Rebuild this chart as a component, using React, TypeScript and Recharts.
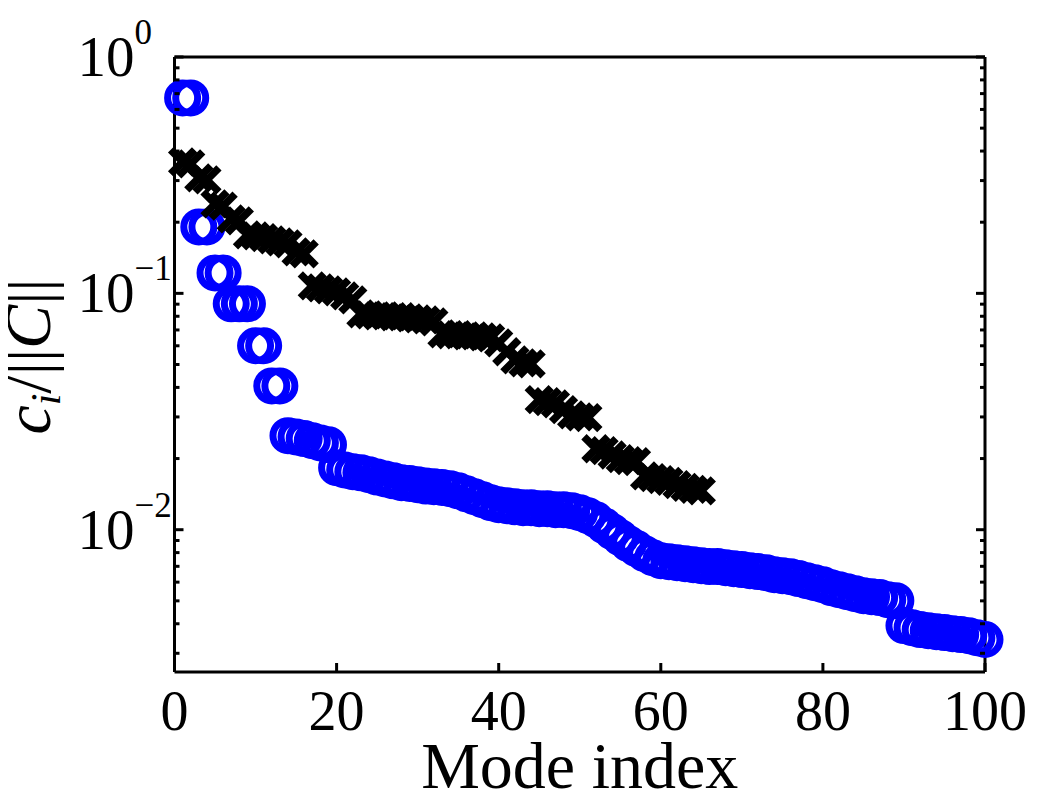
import { Scatter, ScatterChart, XAxis, YAxis } from "recharts";

// normalised coefficient per mode (blue circles, modes 1..100)
const circleCoeffs = [
  0.671, 0.671, 0.191, 0.191, 0.122, 0.122, 0.0903, 0.0903, 0.0903, 0.06, 0.06, 0.0406, 0.0406,
  0.025, 0.0247, 0.0243, 0.0238, 0.0233, 0.0229,
  0.0183, 0.0179, 0.0176, 0.0174, 0.0171, 0.0167, 0.0164, 0.0161, 0.0158, 0.0157,
  0.0155, 0.0153, 0.0152, 0.0151, 0.0149, 0.0146, 0.0142, 0.0138, 0.0134, 0.013,
  0.01276, 0.01263, 0.01251, 0.01239, 0.01239, 0.01227, 0.01227, 0.01215, 0.01215, 0.01203,
  0.0118, 0.01146, 0.01102, 0.0104, 0.00981, 0.00925, 0.00873, 0.00832, 0.00792, 0.00761,
  0.00739, 0.00732, 0.00725, 0.00718, 0.00711, 0.00704, 0.00698, 0.00698, 0.00691, 0.00684,
  0.00678, 0.00671, 0.00665, 0.00658, 0.00645, 0.00639, 0.00633, 0.00621, 0.00608, 0.00597,
  0.00585, 0.00568, 0.00557, 0.00547, 0.00536, 0.00526, 0.00521, 0.00516, 0.00506, 0.00501,
  0.00393, 0.00385, 0.00378, 0.00374, 0.0037, 0.00367, 0.00363, 0.0036, 0.00356, 0.00349, 0.00343,
];

// black crosses, modes 1..65
const crossCoeffs = [
  0.36, 0.353, 0.308, 0.302, 0.239, 0.234, 0.2065, 0.2025, 0.1767, 0.175, 0.172, 0.1684, 0.165, 0.162,
  0.1498, 0.147,
  0.1076, 0.1055, 0.1035, 0.1015, 0.0976, 0.0939,
  0.0819, 0.0811, 0.0803, 0.0803, 0.0796, 0.0796, 0.0788, 0.078, 0.0773, 0.0758,
  0.0674, 0.0668, 0.0668, 0.0661, 0.0661, 0.0655, 0.0648,
  0.0617, 0.0566, 0.0523, 0.0508, 0.0503,
  0.0355, 0.0348, 0.0341, 0.0322, 0.0306, 0.03, 0.0298,
  0.022, 0.0216, 0.0207, 0.02, 0.0196, 0.0194,
  0.0169, 0.0166, 0.0163, 0.016, 0.0155, 0.0151, 0.0148, 0.0146,
];

const xTicks = [0, 20, 40, 60, 80, 100];
const yMajor = [1, 0.1, 0.01];
const yTicks = [
  1, 0.9, 0.8, 0.7, 0.6, 0.5, 0.4, 0.3, 0.2,
  0.1, 0.09, 0.08, 0.07, 0.06, 0.05, 0.04, 0.03, 0.02,
  0.01, 0.009, 0.008, 0.007, 0.006, 0.005, 0.004, 0.003,
];

const circleData = circleCoeffs.map((c, i) => ({ mode: i + 1, c }));
const crossData = crossCoeffs.map((c, i) => ({ mode: i + 1, c }));

const FONT = '"Liberation Serif", "Times New Roman", serif';

function BottomTick({ x, y, payload }: any) {
  return (
    <g>
      <line x1={x} y1={y} x2={x} y2={y - 9} stroke="#000" strokeWidth={3} />
      <text x={x} y={y + 58} textAnchor="middle" fontSize={56} fontFamily={FONT} fill="#000">
        {payload.value}
      </text>
    </g>
  );
}

function TopTick({ x, y }: any) {
  return <line x1={x} y1={y} x2={x} y2={y + 9} stroke="#000" strokeWidth={3} />;
}

function LeftTick({ x, y, payload }: any) {
  const major = yMajor.includes(payload.value);
  const exp = Math.round(Math.log10(payload.value));
  return (
    <g>
      <line x1={x} y1={y} x2={x + (major ? 9 : 5)} y2={y} stroke="#000" strokeWidth={3} />
      {major && (
        <text x={x - 97} y={y + 19} fontSize={57} fontFamily={FONT} fill="#000">
          10
          <tspan dy={-32} fontSize={35}>
            {exp === 0 ? "0" : "\u2212" + Math.abs(exp)}
          </tspan>
        </text>
      )}
    </g>
  );
}

function RightTick({ x, y, payload }: any) {
  const major = yMajor.includes(payload.value);
  return <line x1={x} y1={y} x2={x - (major ? 9 : 5)} y2={y} stroke="#000" strokeWidth={3} />;
}

function YLabel({ viewBox }: any) {
  const cx = viewBox.x + 42;
  const cy = viewBox.y + viewBox.height / 2 - 8;
  return (
    <text
      x={cx}
      y={cy}
      transform={`rotate(-90, ${cx}, ${cy})`}
      textAnchor="middle"
      fontSize={66}
      fontFamily={FONT}
      fill="#000"
    >
      <tspan fontStyle="italic">c</tspan>
      <tspan fontStyle="italic" fontSize={42} dy={10}>i</tspan>
      <tspan dy={-10}>/||</tspan>
      <tspan fontStyle="italic">C</tspan>
      <tspan>||</tspan>
    </text>
  );
}

function Ring({ cx, cy }: any) {
  return <circle cx={cx} cy={cy} r={15} fill="none" stroke="#0000ff" strokeWidth={7} />;
}

function Cross({ cx, cy }: any) {
  const s = 12;
  return (
    <path
      d={`M${cx - s},${cy - s}L${cx + s},${cy + s}M${cx + s},${cy - s}L${cx - s},${cy + s}`}
      stroke="#000"
      strokeWidth={7.5}
      fill="none"
    />
  );
}

export default function App() {
  return (
    <ScatterChart width={1021} height={782} margin={{ top: 0, right: 0, bottom: 0, left: 0 }}>
      <XAxis
        xAxisId="b"
        type="number"
        dataKey="mode"
        domain={[0, 100]}
        ticks={xTicks}
        interval={0}
        height={118}
        tickSize={0}
        tickMargin={0}
        tickLine={false}
        axisLine={{ stroke: "#000", strokeWidth: 3 }}
        tick={<BottomTick />}
        label={{
          value: "Mode index",
          position: "insideBottom",
          offset: 2,
          fontSize: 66,
          fontFamily: FONT,
          fill: "#000",
        }}
      />
      <XAxis
        xAxisId="t"
        orientation="top"
        type="number"
        dataKey="mode"
        domain={[0, 100]}
        ticks={xTicks.slice(1, -1)}
        interval={0}
        height={49}
        tickSize={0}
        tickMargin={0}
        tickLine={false}
        axisLine={{ stroke: "#000", strokeWidth: 3 }}
        tick={<TopTick />}
      />
      <YAxis
        yAxisId="l"
        type="number"
        dataKey="c"
        scale="log"
        domain={[0.0025, 1]}
        allowDataOverflow
        ticks={yTicks}
        interval={0}
        width={166.5}
        tickSize={0}
        tickMargin={0}
        tickLine={false}
        axisLine={{ stroke: "#000", strokeWidth: 3 }}
        tick={<LeftTick />}
        label={{ content: <YLabel /> }}
      />
      <YAxis
        yAxisId="r"
        orientation="right"
        type="number"
        dataKey="c"
        scale="log"
        domain={[0.0025, 1]}
        allowDataOverflow
        ticks={yTicks}
        interval={0}
        width={44}
        tickSize={0}
        tickMargin={0}
        tickLine={false}
        axisLine={{ stroke: "#000", strokeWidth: 3 }}
        tick={<RightTick />}
      />
      <Scatter
        data={circleData}
        xAxisId="b"
        yAxisId="l"
        shape={<Ring />}
        isAnimationActive={false}
      />
      <Scatter
        data={crossData}
        xAxisId="b"
        yAxisId="l"
        shape={<Cross />}
        isAnimationActive={false}
      />
    </ScatterChart>
  );
}
